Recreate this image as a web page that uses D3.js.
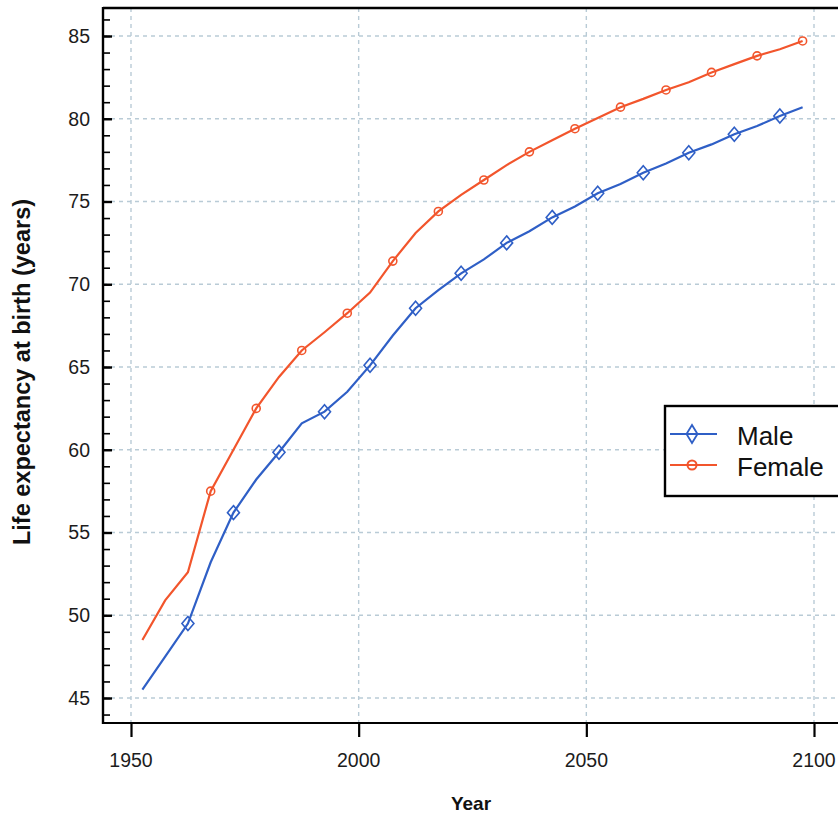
<!DOCTYPE html>
<html>
<head>
<meta charset="utf-8">
<script src="https://cdn.jsdelivr.net/npm/d3@7"></script>
<style>
    body { margin: 0; background: #fff; }
    svg { display: block; font-family: "Liberation Sans", Arial, sans-serif; }
</style>
</head>
<body>
<svg id="chart" width="838" height="815"></svg>
<script>
// 5-year period midpoints
const years = [1952.5, 1957.5, 1962.5, 1967.5, 1972.5, 1977.5, 1982.5, 1987.5, 1992.5, 1997.5,
    2002.5, 2007.5, 2012.5, 2017.5, 2022.5, 2027.5, 2032.5, 2037.5, 2042.5, 2047.5,
    2052.5, 2057.5, 2062.5, 2067.5, 2072.5, 2077.5, 2082.5, 2087.5, 2092.5, 2097.5];
const male = [45.5, 47.5, 49.5, 53.2, 56.2, 58.2, 59.85, 61.6, 62.3, 63.5,
    65.1, 66.9, 68.55, 69.65, 70.66, 71.5, 72.5, 73.2, 74.04, 74.7,
    75.5, 76.06, 76.74, 77.3, 77.95, 78.45, 79.06, 79.56, 80.17, 80.7];
const female = [48.5, 50.9, 52.6, 57.5, 60.0, 62.5, 64.4, 66.0, 67.1, 68.25,
    69.5, 71.4, 73.1, 74.4, 75.4, 76.3, 77.2, 78.0, 78.7, 79.4,
    80.05, 80.7, 81.2, 81.74, 82.2, 82.8, 83.3, 83.8, 84.2, 84.7];
const maleMarkerYears = [1962.5, 1972.5, 1982.5, 1992.5, 2002.5, 2012.5, 2022.5, 2032.5,
    2042.5, 2052.5, 2062.5, 2072.5, 2082.5, 2092.5];
const femaleMarkerYears = [1967.5, 1977.5, 1987.5, 1997.5, 2007.5, 2017.5, 2027.5, 2037.5,
    2047.5, 2057.5, 2067.5, 2077.5, 2087.5, 2097.5];
const xTicks = [1950, 2000, 2050, 2100];
const yTicks = [45, 50, 55, 60, 65, 70, 75, 80, 85];
const yMinorTicks = d3.range(44, 87);
const seriesNames = ['Male', 'Female'];

const blue = '#2f5fc6';
const red = '#f2552c';
const gridColor = '#b9cbd6';

const frame = { left: 103, top: 8, bottom: 723, right: 870 };

let svg = d3.select('#chart');

let x = d3.scaleLinear().domain([1950, 2100]).range([131, 814]);
let y = d3.scaleLinear().domain([45, 85]).range([698, 36]);

// grid
let grid = svg.append('g').attr('class', 'grid');
grid.selectAll('line.gx')
    .data(xTicks)
    .enter().append('line')
    .attr('class', 'gx')
    .attr('x1', d => x(d)).attr('x2', d => x(d))
    .attr('y1', frame.top).attr('y2', frame.bottom)
    .style('stroke', gridColor).style('stroke-width', 1.4).style('stroke-dasharray', '4,4');
grid.selectAll('line.gy')
    .data(yTicks)
    .enter().append('line')
    .attr('class', 'gy')
    .attr('x1', frame.left).attr('x2', frame.right)
    .attr('y1', d => y(d)).attr('y2', d => y(d))
    .style('stroke', gridColor).style('stroke-width', 1.4).style('stroke-dasharray', '4,4');

// y axis: minor + major ticks pointing inward
let yAxisMinor = d3.axisRight(y)
    .tickValues(yMinorTicks)
    .tickSize(7)
    .tickFormat('');
svg.append('g')
    .attr('transform', `translate(${frame.left},0)`)
    .call(yAxisMinor)
    .call(g => g.select('.domain').remove())
    .selectAll('line').style('stroke', '#000').style('stroke-width', 1.6);

let yAxisMajor = d3.axisRight(y)
    .tickValues(yTicks)
    .tickSize(9)
    .tickFormat('');
svg.append('g')
    .attr('transform', `translate(${frame.left},0)`)
    .call(yAxisMajor)
    .call(g => g.select('.domain').remove())
    .selectAll('line').style('stroke', '#000').style('stroke-width', 2.4);

svg.append('g')
    .selectAll('text')
    .data(yTicks)
    .enter().append('text')
    .attr('x', 90)
    .attr('y', d => y(d))
    .attr('dy', '0.35em')
    .attr('text-anchor', 'end')
    .style('font-size', '19.5px')
    .style('fill', '#1c1c1c')
    .text(d => d);

// x axis
let xAxis = d3.axisBottom(x)
    .tickValues(xTicks)
    .tickSize(14)
    .tickFormat('');
svg.append('g')
    .attr('transform', `translate(0,${frame.bottom})`)
    .call(xAxis)
    .call(g => g.select('.domain').remove())
    .selectAll('line').style('stroke', '#000').style('stroke-width', 2.2);

svg.append('g')
    .selectAll('text')
    .data(xTicks)
    .enter().append('text')
    .attr('x', d => x(d))
    .attr('y', 767)
    .attr('text-anchor', 'middle')
    .style('font-size', '19.5px')
    .style('fill', '#1c1c1c')
    .text(d => d);

// frame lines
svg.append('line')
    .attr('x1', frame.left).attr('x2', frame.right)
    .attr('y1', frame.top).attr('y2', frame.top)
    .style('stroke', '#000').style('stroke-width', 2.6);
svg.append('line')
    .attr('x1', frame.left).attr('x2', frame.left)
    .attr('y1', frame.top - 1).attr('y2', frame.bottom + 1)
    .style('stroke', '#000').style('stroke-width', 2.4);
svg.append('line')
    .attr('x1', frame.left).attr('x2', frame.right)
    .attr('y1', frame.bottom).attr('y2', frame.bottom)
    .style('stroke', '#000').style('stroke-width', 1.8);

// axis titles
svg.append('text')
    .attr('transform', 'translate(30,372) rotate(-90)')
    .attr('text-anchor', 'middle')
    .style('font-size', '23.5px')
    .style('font-weight', 'bold')
    .style('fill', '#111')
    .text('Life expectancy at birth (years)');
svg.append('text')
    .attr('x', 471)
    .attr('y', 810)
    .attr('text-anchor', 'middle')
    .style('font-size', '19px')
    .style('font-weight', 'bold')
    .style('fill', '#111')
    .text('Year');

// lines
let line = d3.line()
    .x(d => x(d[0]))
    .y(d => y(d[1]));

let maleData = years.map((yr, i) => [yr, male[i]]);
let femaleData = years.map((yr, i) => [yr, female[i]]);

function diamondPath(cx, cy, w, h) {
    return `M${cx},${cy - h}L${cx + w},${cy}L${cx},${cy + h}L${cx - w},${cy}Z`;
}

svg.append('path')
    .datum(femaleData)
    .attr('d', line)
    .style('fill', 'none').style('stroke', red).style('stroke-width', 2.2);
svg.append('path')
    .datum(maleData)
    .attr('d', line)
    .style('fill', 'none').style('stroke', blue).style('stroke-width', 2.2);

svg.append('g')
    .selectAll('circle')
    .data(femaleData.filter(d => femaleMarkerYears.includes(d[0])))
    .enter().append('circle')
    .attr('cx', d => x(d[0]))
    .attr('cy', d => y(d[1]))
    .attr('r', 4)
    .style('fill', 'none').style('stroke', red).style('stroke-width', 1.6);

svg.append('g')
    .selectAll('path')
    .data(maleData.filter(d => maleMarkerYears.includes(d[0])))
    .enter().append('path')
    .attr('d', d => diamondPath(x(d[0]), y(d[1]), 6, 7))
    .style('fill', 'none').style('stroke', blue).style('stroke-width', 1.6);

// legend
let legend = svg.append('g').attr('class', 'legend');
legend.append('rect')
    .attr('x', 665).attr('y', 406)
    .attr('width', 220).attr('height', 90)
    .style('fill', '#fff').style('stroke', '#000').style('stroke-width', 2.4);

let legendRows = seriesNames.map((name, i) => ({ name: name, color: i === 0 ? blue : red, cy: 434 + i * 31 }));
legendRows.forEach((r, i) => {
    legend.append('line')
        .attr('x1', 670).attr('x2', 717)
        .attr('y1', r.cy).attr('y2', r.cy)
        .style('stroke', r.color).style('stroke-width', 2.2);
    if (i === 0) {
        legend.append('path')
            .attr('d', diamondPath(692, r.cy, 5.5, 9))
            .style('fill', 'none').style('stroke', r.color).style('stroke-width', 1.8);
    } else {
        legend.append('circle')
            .attr('cx', 692).attr('cy', r.cy).attr('r', 4.5)
            .style('fill', 'none').style('stroke', r.color).style('stroke-width', 2);
    }
    legend.append('text')
        .attr('x', 737)
        .attr('y', r.cy + 11)
        .style('font-size', '26px')
        .style('fill', '#111')
        .text(r.name);
});
</script>
</body>
</html>
